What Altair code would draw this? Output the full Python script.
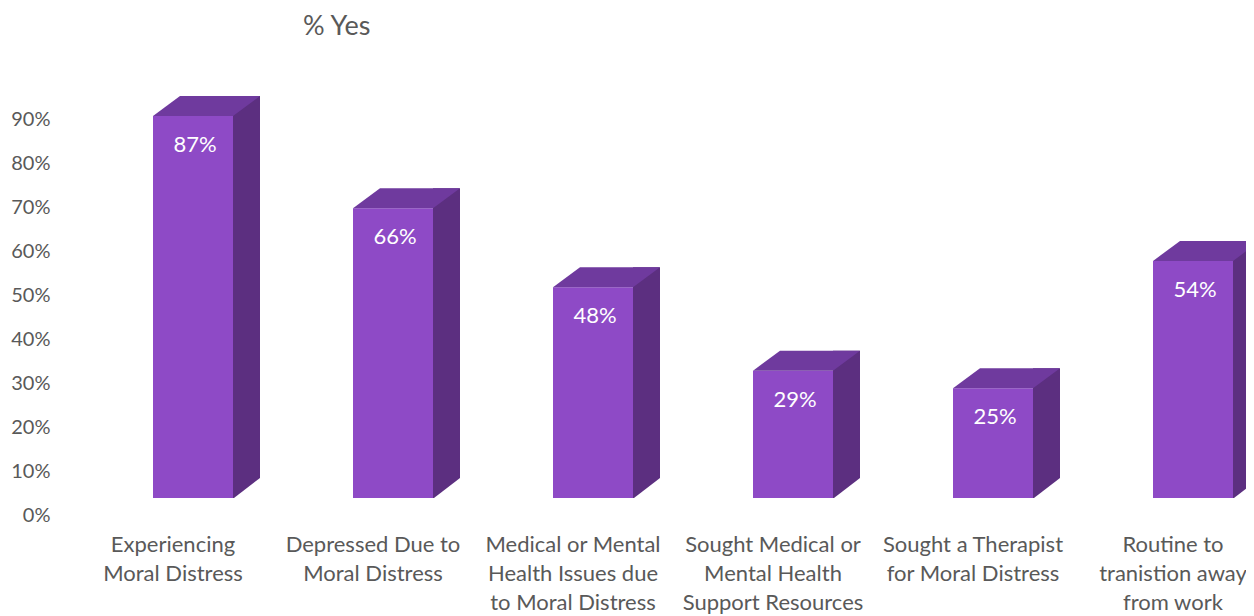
import altair as alt
import pandas as pd

categories = [
    "Experiencing\nMoral Distress",
    "Depressed Due to\nMoral Distress",
    "Medical or Mental\nHealth Issues due\nto Moral Distress",
    "Sought Medical or\nMental Health\nSupport Resources",
    "Sought a Therapist\nfor Moral Distress",
    "Routine to\ntranistion away\nfrom work",
]
values = [0.87, 0.66, 0.48, 0.29, 0.25, 0.54]
value_labels = ["87%", "66%", "48%", "29%", "25%", "54%"]
y_ticks = [0, 0.1, 0.2, 0.3, 0.4, 0.5, 0.6, 0.7, 0.8, 0.9]

df = pd.DataFrame({"cat": categories, "value": values, "vlabel": value_labels})

FRONT = "#8E4AC6"
TOP = "#6F3A9E"
SIDE = "#5C2F80"
GREY = "#595959"
FONT = "Lato"

x = alt.X("cat:N", sort=categories, axis=None,
          scale=alt.Scale(range=[0, 1200], paddingInner=0, paddingOuter=0))
y = alt.Y("value:Q", scale=alt.Scale(domain=[0, 1]),
          axis=alt.Axis(values=y_ticks, format=".0%", domain=False, ticks=False,
                        tickSize=0, grid=False, labelPadding=23, labelFont=FONT,
                        labelFontSize=20, labelColor=GREY, title=None))

base = alt.Chart(df)

side = base.mark_bar(color=SIDE, width=27, xOffset=73.5, yOffset=-37,
                     y2Offset=-17).encode(x=x, y=y, y2=alt.datum(0))

cut_path = "M -1 0.8 L 1 0.8 L 1 -0.741 Z"
cut = base.mark_point(shape=cut_path, size=729, filled=True, color="white",
                      opacity=1, strokeWidth=0, xOffset=73.5,
                      yOffset=-27).encode(x=x, y=alt.datum(0))

front = base.mark_bar(color=FRONT, width=80, xOffset=20, yOffset=-17,
                      y2Offset=-17).encode(x=x, y=y, y2=alt.datum(0))

top_path = "M -1 0.18692 L -0.49533 -0.18692 L 1 -0.18692 L 0.49533 0.18692 Z"
top = base.mark_point(shape=top_path, size=11449, filled=True, color=TOP,
                      opacity=1, strokeWidth=0, xOffset=33.5,
                      yOffset=-27).encode(x=x, y=y)

vtext = base.mark_text(color="white", font=FONT, fontSize=22, baseline="middle",
                       align="center", dx=22, dy=12).encode(x=x, y=y, text="vlabel:N")

xlabels = base.mark_text(color=GREY, font=FONT, fontSize=22, baseline="top",
                         align="center", lineBreak="\n", lineHeight=29,
                         dy=20).encode(x=x, y=alt.datum(0), text="cat:N")

chart = alt.layer(side, cut, front, top, vtext, xlabels).properties(
    width=1173, height=439,
    title=alt.TitleParams(text="% Yes", anchor="start", frame="group", dx=230,
                          offset=35, fontSize=27, font=FONT, fontWeight="normal",
                          color=GREY),
    autosize=alt.AutoSizeParams(type="none"),
    padding={"left": 65, "top": 68, "right": 0, "bottom": 101},
).configure_view(stroke=None)

chart.save("out.html", embed_options={"renderer": "svg", "actions": False})
